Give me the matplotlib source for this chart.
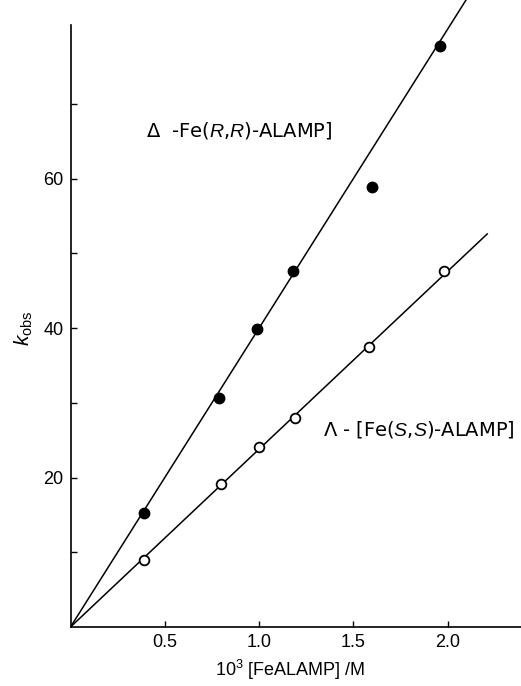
import matplotlib
matplotlib.use("Agg")
import matplotlib.pyplot as plt
import numpy as np

# Data
x_delta = [0.39, 0.79, 0.99, 1.18, 1.60, 1.96]
k_delta = [15.2, 30.6, 39.9, 47.7, 58.9, 77.8]
x_lambda = [0.39, 0.80, 1.00, 1.19, 1.585, 1.98]
k_lambda = [8.9, 19.1, 24.1, 27.9, 37.5, 47.6]
slope_delta = 40.0
slope_lambda = 23.8
line_end_delta = 2.2
line_end_lambda = 2.21
x_ticks = [0.5, 1.0, 1.5, 2.0]
x_ticklabels = ["0.5", "1.0", "1.5", "2.0"]
y_major = [20, 40, 60]
y_minor = [10, 30, 50, 70]

plt.rcParams['font.family'] = ['Liberation Sans', 'DejaVu Sans']
plt.rcParams['mathtext.fontset'] = 'custom'
plt.rcParams['mathtext.rm'] = 'Liberation Sans'
plt.rcParams['mathtext.it'] = 'Liberation Sans:italic'

fig = plt.figure(figsize=(5.21, 6.86), dpi=100)
ax = fig.add_axes([70.5 / 521, 59 / 686, (521 - 70.5) / 521, 627 / 686])
ax.set_xlim(0, 2.389)
ax.set_ylim(0, 83.9)

lw = 1.1
xd = np.array([0, line_end_delta])
xl = np.array([0, line_end_lambda])
ax.plot(xd, slope_delta * xd, color='black', lw=lw, clip_on=True)
ax.plot(xl, slope_lambda * xl, color='black', lw=lw, clip_on=True)
ax.plot(x_delta, k_delta, 'o', ms=7.5, color='black', zorder=3)
ax.plot(x_lambda, k_lambda, 'o', ms=7, mfc='white', mec='black', mew=1.3, zorder=3)

for s in ['top', 'right']:
    ax.spines[s].set_visible(False)
for s in ['left', 'bottom']:
    ax.spines[s].set_linewidth(1.2)
ax.spines['left'].set_bounds(0, 80.6)

ax.set_xticks(x_ticks)
ax.set_xticklabels(x_ticklabels)
ax.set_yticks(y_major)
ax.set_yticks(y_minor, minor=True)
ax.tick_params(axis='both', which='both', direction='in', length=4, width=1.0,
               labelsize=13, pad=5)

ax.set_ylabel(r'$k_{\mathrm{obs}}$', fontsize=15)
ax.yaxis.set_label_coords((35 - 70.5) / 450.5, (627 - 328) / 627)

ax.set_xlabel(r'10$^3$ [FeALAMP] /M', fontsize=13)
ax.xaxis.set_label_coords((290 - 70.5) / 450.5, -(658 - 627) / 627)

ann_family = ['DejaVu Sans']
ax.text(0.40, 66.4, r'Δ  -Fe($R$,$R$)-ALAMP]', fontsize=14, family=ann_family,
        ha='left', va='center')
ax.text(1.339, 26.4, r'Λ - [Fe($S$,$S$)-ALAMP]', fontsize=14, family=ann_family,
        ha='left', va='center')

fig.savefig('out.png', dpi=100)
